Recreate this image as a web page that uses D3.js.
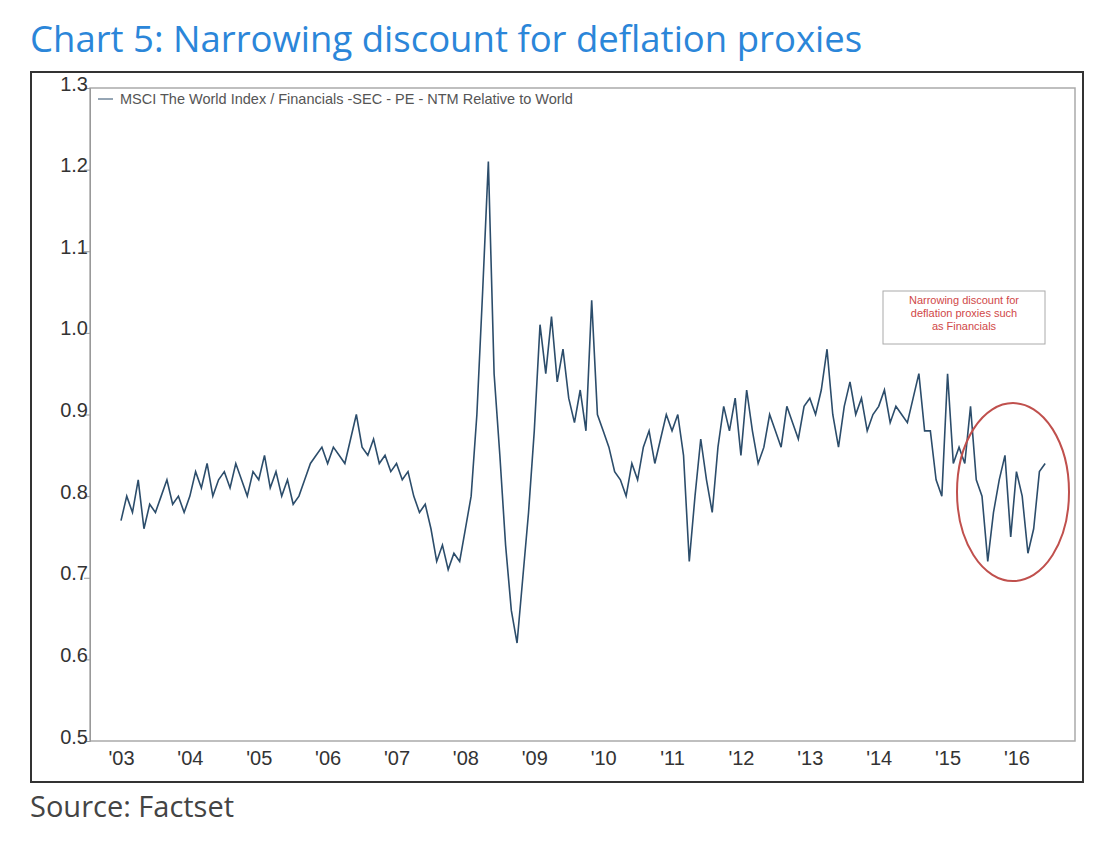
<!DOCTYPE html>
<html><head><meta charset="utf-8">
<script src="https://cdn.jsdelivr.net/npm/d3@7"></script>
<style>body{margin:0;background:#fff}</style></head>
<body><svg id="c" width="1112" height="850"></svg>
<script>
// monthly values, Jan 2003 .. Jun 2016
var startYear = 2003;
var values = [
  0.77,0.80,0.78,0.82,0.76,0.79,0.78,0.80,0.82,0.79,0.80,0.78,
  0.80,0.83,0.81,0.84,0.80,0.82,0.83,0.81,0.84,0.82,0.80,0.83,
  0.82,0.85,0.81,0.83,0.80,0.82,0.79,0.80,0.82,0.84,0.85,0.86,
  0.84,0.86,0.85,0.84,0.87,0.90,0.86,0.85,0.87,0.84,0.85,0.83,
  0.84,0.82,0.83,0.80,0.78,0.79,0.76,0.72,0.74,0.71,0.73,0.72,
  0.76,0.80,0.90,1.05,1.21,0.95,0.85,0.74,0.66,0.62,0.70,0.78,
  0.88,1.01,0.95,1.02,0.94,0.98,0.92,0.89,0.93,0.88,1.04,0.90,
  0.88,0.86,0.83,0.82,0.80,0.84,0.82,0.86,0.88,0.84,0.87,0.90,
  0.88,0.90,0.85,0.72,0.80,0.87,0.82,0.78,0.86,0.91,0.88,0.92,
  0.85,0.93,0.88,0.84,0.86,0.90,0.88,0.86,0.91,0.89,0.87,0.91,
  0.92,0.90,0.93,0.98,0.90,0.86,0.91,0.94,0.90,0.92,0.88,0.90,
  0.91,0.93,0.89,0.91,0.90,0.89,0.92,0.95,0.88,0.88,0.82,0.80,
  0.95,0.84,0.86,0.84,0.91,0.82,0.80,0.72,0.78,0.82,0.85,0.75,
  0.83,0.80,0.73,0.76,0.83,0.84
];
var yTicks = [0.5,0.6,0.7,0.8,0.9,1.0,1.1,1.2,1.3];
var yearLabels = ["'03","'04","'05","'06","'07","'08","'09","'10","'11","'12","'13","'14","'15","'16"];

var svg = d3.select("#c");
var pLeft = 90, pRight = 1075, pTop = 88, pBottom = 741;

var x = d3.scaleLinear().domain([2002.55, 2016.85]).range([pLeft, pRight]);
var y = d3.scaleLinear().domain([0.5, 1.3]).range([pBottom, pTop]);

svg.append("text").attr("x", 30).attr("y", 52)
  .style("font-family", "Open Sans, sans-serif").style("font-size", "36.5px")
  .attr("fill", "#2b86d9").text("Chart 5: Narrowing discount for deflation proxies");

// outer frame
svg.append("rect").attr("x", 31).attr("y", 72).attr("width", 1052).attr("height", 710)
  .attr("fill", "none").attr("stroke", "#333").attr("stroke-width", 2);
svg.append("rect").attr("x", pLeft).attr("y", pTop).attr("width", pRight - pLeft).attr("height", pBottom - pTop)
  .attr("fill", "none").attr("stroke", "#aaa").attr("stroke-width", 1.5);

var yAxis = svg.append("g").attr("transform", "translate(" + pLeft + ",0)")
  .call(d3.axisLeft(y).tickValues(yTicks).tickFormat(d3.format(".1f")).tickSize(6));
yAxis.select(".domain").attr("stroke", "#999");
yAxis.selectAll("line").attr("stroke", "#999");
yAxis.selectAll("text").attr("x", -2).attr("dy", "0.1em")
  .style("font-family", "Liberation Sans, Arial").style("font-size", "20px").attr("fill", "#333");

var xAxis = svg.append("g").attr("transform", "translate(0," + pBottom + ")")
  .call(d3.axisBottom(x).tickValues(d3.range(2003, 2017)).tickFormat(function (d, i) { return yearLabels[i]; }).tickSize(0));
xAxis.select(".domain").remove();
xAxis.selectAll("text").attr("dy", "1.05em")
  .style("font-family", "Liberation Sans, Arial").style("font-size", "20px").attr("fill", "#333");

var line = d3.line()
  .x(function (d, i) { return x(startYear + i / 12); })
  .y(function (d) { return y(d); });
svg.append("path").datum(values).attr("d", line)
  .attr("fill", "none").attr("stroke", "#2c4d6b").attr("stroke-width", 1.6);

// legend
svg.append("line").attr("x1", 98).attr("x2", 113).attr("y1", 99).attr("y2", 99).attr("stroke", "#2c4d6b");
svg.append("text").attr("x", 120).attr("y", 104)
  .style("font-family", "Liberation Sans, Arial").style("font-size", "14.5px").attr("fill", "#555")
  .text("MSCI The World Index / Financials -SEC - PE - NTM Relative to World");

// annotation
svg.append("rect").attr("x", 883).attr("y", 291).attr("width", 162).attr("height", 53)
  .attr("fill", "#fff").attr("stroke", "#aaa");
["Narrowing discount for", "deflation proxies such", "as Financials"].forEach(function (t, i) {
  svg.append("text").attr("x", 964).attr("y", 304 + i * 13).attr("text-anchor", "middle")
    .style("font-family", "Liberation Sans, Arial").style("font-size", "11px").attr("fill", "#d04848").text(t);
});
svg.append("ellipse").attr("cx", x(2015.95)).attr("cy", y(0.805)).attr("rx", 56).attr("ry", 89)
  .attr("fill", "none").attr("stroke", "#c0504d").attr("stroke-width", 2);

svg.append("text").attr("x", 30).attr("y", 817)
  .style("font-family", "Open Sans, sans-serif").style("font-size", "29px").attr("fill", "#444")
  .text("Source: Factset");
</script></body></html>
